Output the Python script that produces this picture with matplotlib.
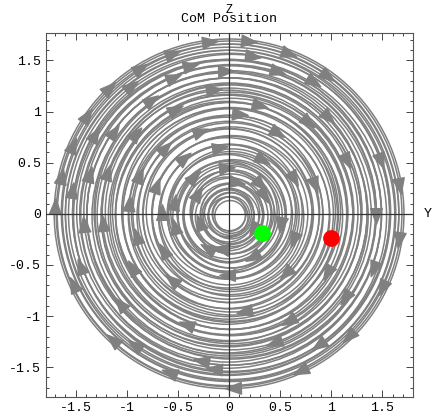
import matplotlib.pyplot as plt
from matplotlib.patches import Circle
from matplotlib.markers import MarkerStyle
from matplotlib.path import Path
from matplotlib.transforms import Affine2D
from matplotlib.ticker import MultipleLocator
import numpy as np

# loops of the CoM trajectory (radius and centre offset of each loop)
loop_r = [0.150, 0.165, 0.180, 0.195, 0.210, 0.225, 0.240, 0.255, 0.270, 0.290,
          0.310, 0.330, 0.350, 0.370, 0.390, 0.410, 0.430, 0.450, 0.470, 0.490,
          0.510, 0.530, 0.550, 0.570, 0.590, 0.610, 0.635, 0.660, 0.685, 0.710,
          0.735, 0.760, 0.785, 0.810, 0.835, 0.860, 0.885, 0.910, 0.935, 0.960,
          0.985, 1.010, 1.030, 1.050, 1.070, 1.090, 1.110, 1.130, 1.150, 1.170,
          1.190, 1.210, 1.230, 1.250, 1.270, 1.290, 1.310, 1.330, 1.350, 1.370,
          1.390, 1.410, 1.430, 1.450, 1.470, 1.490, 1.510, 1.530, 1.550, 1.570,
          1.590, 1.610, 1.630, 1.650, 1.670, 1.690, 1.710]
loop_dx = [0.01, 0.00, 0.02, -0.01, 0.01, 0.02, 0.00, -0.01, 0.02, 0.01,
           0.03, 0.00, -0.02, 0.01, 0.02, 0.03, -0.01, 0.00, 0.02, -0.02,
           0.01, 0.03, 0.00, -0.02, 0.02, 0.01, 0.03, -0.01, 0.00, 0.02,
           -0.02, 0.01, 0.03, 0.00, -0.01, 0.02, 0.00, 0.01, -0.02, 0.02,
           0.00, 0.03, -0.01, 0.01, 0.02, -0.02, 0.00, 0.02, 0.01, -0.01,
           0.03, 0.00, -0.02, 0.01, 0.02, 0.00, -0.01, 0.02, 0.01, -0.02,
           0.00, 0.02, 0.01, -0.01, 0.02, 0.00, -0.02, 0.01, 0.02, 0.00,
           -0.01, 0.01, 0.00, 0.01, -0.01, 0.00, 0.00]
loop_dy = [-0.02, 0.00, -0.01, -0.03, 0.00, -0.02, 0.01, -0.02, -0.03, 0.00,
           -0.01, -0.03, 0.01, -0.02, 0.00, 0.02, -0.01, -0.03, 0.00, 0.02,
           -0.02, 0.00, -0.03, 0.01, 0.02, -0.02, 0.00, 0.02, -0.01, -0.03,
           0.01, 0.00, -0.02, 0.02, 0.00, -0.01, 0.02, -0.02, 0.01, 0.00,
           -0.02, 0.02, 0.00, -0.01, 0.02, 0.01, -0.02, 0.00, 0.02, -0.01,
           0.00, 0.02, -0.02, 0.01, 0.00, -0.01, 0.02, 0.00, -0.02, 0.01,
           0.00, -0.01, 0.02, 0.00, -0.01, 0.01, 0.00, -0.02, 0.01, 0.00,
           0.01, -0.01, 0.00, 0.01, -0.01, 0.00, 0.00]

# arrowheads along the path: (radius, polar angle in degrees), motion is clockwise
arrow_r = [1.70, 1.68, 1.67, 1.69, 1.70, 1.67, 1.66, 1.69, 1.70, 1.67,
           1.66, 1.69, 1.68, 1.66, 1.67, 1.68, 1.70, 1.66, 1.68, 1.67,
           1.55, 1.52, 1.58, 1.50, 1.56, 1.53, 1.57, 1.51, 1.55, 1.52, 1.58, 1.54,
           1.42, 1.38, 1.35, 1.44, 1.40, 1.47, 1.36, 1.44, 1.40, 1.33, 1.46, 1.38, 1.42,
           1.25, 1.20, 1.15, 1.22, 1.10, 1.18, 1.26, 1.12, 1.20, 1.16, 1.08, 1.24,
           0.98, 0.95, 0.90, 0.85, 0.98, 0.92, 0.88, 0.80, 0.96, 0.86, 0.93,
           0.76, 0.70, 0.65, 0.62, 0.72, 0.68, 0.60, 0.74, 0.66,
           0.55, 0.50, 0.45, 0.42, 0.52, 0.48, 0.40, 0.55,
           0.36, 0.32, 0.28, 0.35, 0.30, 0.38]
arrow_a = [178, 168, 157, 146, 134, 122, 110, 97, 84, 70,
           55, 10, -8, -25, -45, -65, -88, -110, -132, -155,
           172, 150, 128, 105, 82, 58, 20, -20, -55, -95, -125, -160,
           165, 145, 125, 113, 92, 72, 45, 0, -35, -70, -100, -140, -175,
           162, 140, 118, 98, 75, 50, 25, -30, -60, -110, -150, -175,
           175, 158, 135, 110, 85, 60, 20, -45, -80, -130, -165,
           160, 130, 100, 60, 30, -20, -90, -150, 180,
           170, 135, 95, 45, -10, -60, -120, -165,
           150, 80, -30, -100, -160, 30]

# start / end markers
green_pt = (0.32, -0.19)
red_pt = (1.00, -0.24)

gray = '#808080'
mono = 'Liberation Mono'

fig = plt.figure(figsize=(4.34, 4.16), dpi=100)
ax = fig.add_axes([0.106, 0.046, 0.846, 0.875])

for r, dx, dy in zip(loop_r, loop_dx, loop_dy):
    ax.add_patch(Circle((dx, dy), r, fill=False, ec=gray, lw=1.1, zorder=2))

# elongated triangle arrowhead, pointing along +x
head = Path([(1.0, 0.0), (-0.6, 0.6), (-0.6, -0.6), (1.0, 0.0)],
            [Path.MOVETO, Path.LINETO, Path.LINETO, Path.CLOSEPOLY])
for r, a in zip(arrow_r, arrow_a):
    th = np.deg2rad(a)
    ms = MarkerStyle(head, transform=Affine2D().rotate_deg(a - 90))
    ax.plot(r * np.cos(th), r * np.sin(th), marker=ms, ms=14, color=gray,
            mec=gray, ls='none', zorder=3)

ax.axhline(0, color='#333333', lw=0.9, zorder=4)
ax.axvline(0, color='#333333', lw=0.9, zorder=4)

ax.plot(*green_pt, 'o', color='#00ff00', ms=11, zorder=5)
ax.plot(*red_pt, 'o', color='#ff0000', ms=11, zorder=5)

ax.set_xlim(-1.79, 1.80)
ax.set_ylim(-1.79, 1.77)

ticks = [-1.5, -1, -0.5, 0, 0.5, 1, 1.5]
labels = ['-1.5', '-1', '-0.5', '0', '0.5', '1', '1.5']
ax.set_xticks(ticks)
ax.set_xticklabels(labels)
ax.set_yticks(ticks)
ax.set_yticklabels(labels)
ax.xaxis.set_minor_locator(MultipleLocator(0.1))
ax.yaxis.set_minor_locator(MultipleLocator(0.1))
ax.tick_params(which='both', direction='in', top=True, right=True,
               color='#444444', width=0.7, labelsize=9.5)
ax.tick_params(which='major', length=5)
ax.tick_params(which='minor', length=2.5)
for lab in ax.get_xticklabels() + ax.get_yticklabels():
    lab.set_family(mono)
for s in ax.spines.values():
    s.set_color('#555555')
    s.set_linewidth(0.8)

fig.text(229 / 434, 1 - 19 / 416, 'CoM Position', family=mono, fontsize=9.5,
         ha='center', va='center')
fig.text(229 / 434, 1 - 10 / 416, 'Z', family=mono, fontsize=8.5,
         ha='center', va='center')
fig.text(428 / 434, 1 - 214 / 416, 'Y', family=mono, fontsize=9.5,
         ha='center', va='center')

fig.savefig('out.png', dpi=100)
